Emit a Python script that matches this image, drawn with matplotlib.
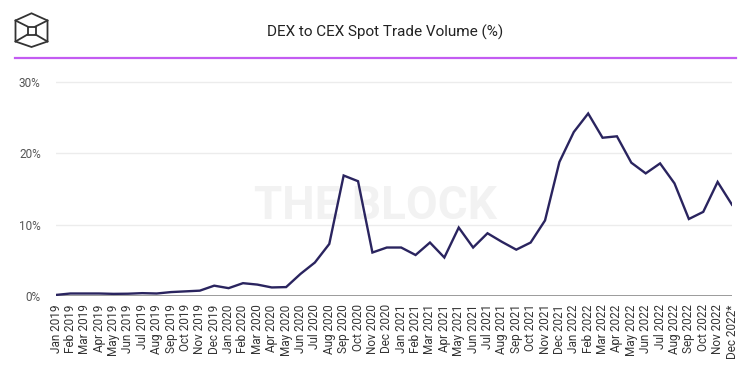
import matplotlib
matplotlib.use("Agg")
import matplotlib.pyplot as plt
from matplotlib.patches import Polygon
from matplotlib.lines import Line2D

months = ["Jan", "Feb", "Mar", "Apr", "May", "Jun", "Jul", "Aug", "Sep", "Oct", "Nov", "Dec"]
years = [2019, 2020, 2021, 2022]
labels = [f"{m} {y}" for y in years for m in months]
labels[-1] = labels[-1] + "*"

values = [
    0.15, 0.35, 0.35, 0.35, 0.3, 0.32, 0.4, 0.35, 0.55, 0.65, 0.75, 1.45,
    1.1, 1.8, 1.6, 1.2, 1.25, 3.1, 4.7, 7.3, 16.9, 16.1, 6.1, 6.8,
    6.8, 5.75, 7.5, 5.4, 9.6, 6.8, 8.8, 7.6, 6.5, 7.5, 10.6, 18.8,
    23.0, 25.6, 22.2, 22.4, 18.7, 17.2, 18.6, 15.8, 10.8, 11.8, 16.0, 12.8,
]
yticks = [0, 10, 20, 30]
title = "DEX to CEX Spot Trade Volume (%)"
watermark = "THE BLOCK"

W, H = 752, 365
fig = plt.figure(figsize=(W / 100, H / 100), dpi=100)
fig.patch.set_facecolor("white")

def px(x, y):
    return x / W, 1 - y / H

# header
fig.text(*px(385, 32), title, ha="center", va="center", fontsize=11,
         family="Roboto", color="#222222")
fig.add_artist(Line2D([15 / W, 736 / W], [1 - 58 / H, 1 - 58 / H],
                      color="#c35cf2", lw=1.6, transform=fig.transFigure))

# logo (hexagonal cube outline)
lc = "#333333"
hexpts = [px(31.5, 13.3), px(47.5, 20.5), px(47.5, 41.5), px(31.5, 47),
          px(15.5, 41.5), px(15.5, 20.5)]
fig.add_artist(Polygon(hexpts, closed=True, fill=False, ec=lc, lw=1.3,
                       transform=fig.transFigure))
sq = [px(27.5, 26.5), px(35.5, 26.5), px(35.5, 34.5), px(27.5, 34.5)]
fig.add_artist(Polygon(sq, closed=True, fill=False, ec=lc, lw=1.3,
                       transform=fig.transFigure))
for (x0, y0), (x1, y1) in [((15.5, 20.5), (27.5, 26.5)),
                           ((47.5, 20.5), (35.5, 26.5)),
                           ((15.5, 41.5), (27.5, 34.5)),
                           ((47.5, 41.5), (35.5, 34.5))]:
    a, b = px(x0, y0), px(x1, y1)
    fig.add_artist(Line2D([a[0], b[0]], [a[1], b[1]], color=lc, lw=1.3,
                          transform=fig.transFigure))

# axes
left, right, bottom, top = 56, 732, 296, 75
ax = fig.add_axes([left / W, 1 - bottom / H, (right - left) / W, (bottom - top) / H])
ax.set_xlim(0, len(values) - 1)
ax.set_ylim(0, 31)
for s in ax.spines.values():
    s.set_visible(False)

for t in yticks[1:]:
    ax.axhline(t, color="#ececec", lw=1, zorder=0)
ax.axhline(0, color="#8a8a8a", lw=1.2, zorder=1)

ax.text(0.472, 0.407, watermark, transform=ax.transAxes, ha="center", va="center",
        fontsize=33, fontweight="bold", family="Roboto", color="#f2f2f2", zorder=0)

x = list(range(len(values)))
ax.plot(x, values, color="#2a245f", lw=1.7, zorder=3, solid_joinstyle="miter")

ax.set_yticks(yticks)
ax.set_yticklabels([f"{t}%" for t in yticks], family="Roboto", fontsize=8.5, color="#555555")
ax.set_xticks(x)
ax.set_xticklabels(labels, rotation=90, family="Roboto", fontsize=8.5, color="#333333")
ax.tick_params(axis="both", length=0)
ax.tick_params(axis="y", pad=11)
ax.tick_params(axis="x", pad=6)

fig.savefig("out.png", dpi=100, facecolor="white")
